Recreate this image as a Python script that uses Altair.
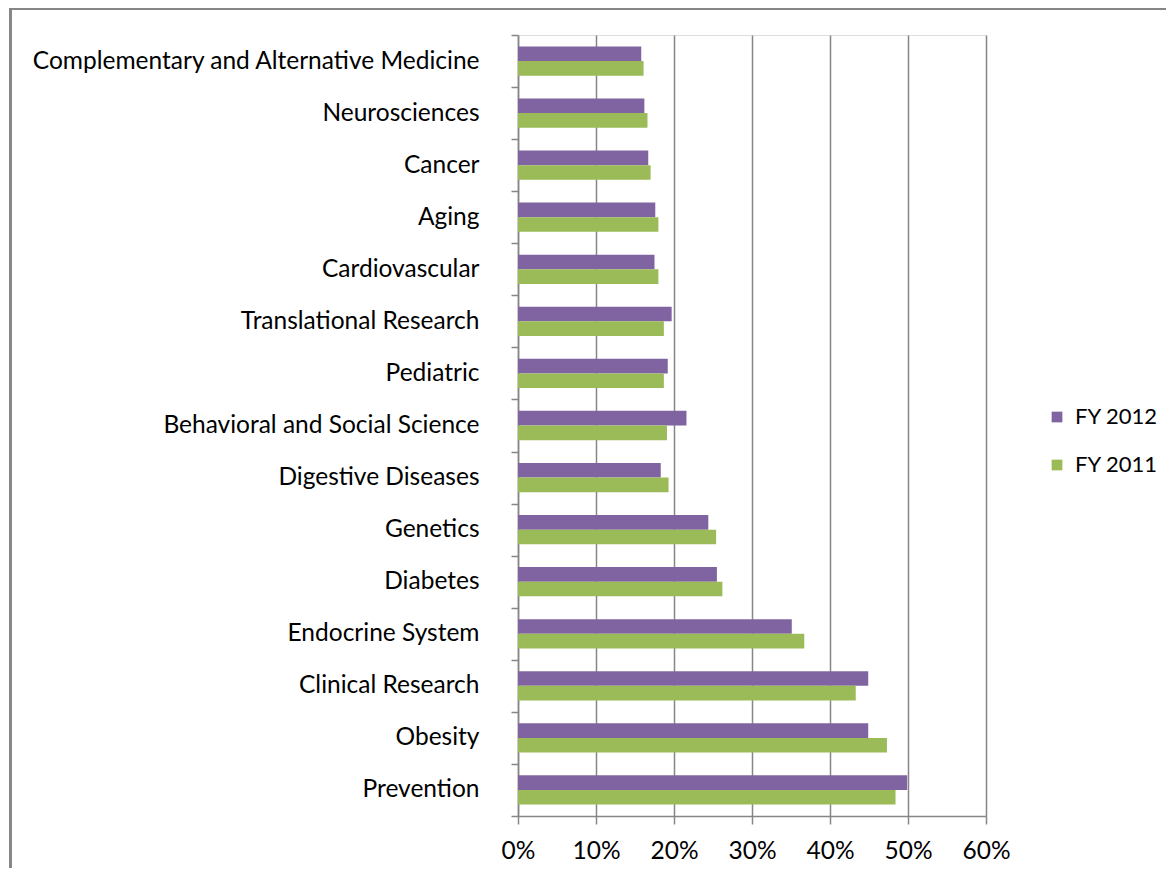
import altair as alt
import pandas as pd

categories = [
    "Complementary and Alternative Medicine", "Neurosciences", "Cancer", "Aging",
    "Cardiovascular", "Translational Research", "Pediatric",
    "Behavioral and Social Science", "Digestive Diseases", "Genetics", "Diabetes",
    "Endocrine System", "Clinical Research", "Obesity", "Prevention",
]
fy2012 = [15.8, 16.2, 16.7, 17.6, 17.5, 19.7, 19.2, 21.6, 18.3, 24.4, 25.5, 35.1, 44.9, 44.9, 49.9]
fy2011 = [16.1, 16.6, 17.0, 18.0, 18.0, 18.7, 18.7, 19.1, 19.3, 25.4, 26.2, 36.7, 43.3, 47.3, 48.4]
series = ["FY 2012", "FY 2011"]
colors = ["#8064A2", "#9BBB59"]
x_ticks = [0, 0.1, 0.2, 0.3, 0.4, 0.5, 0.6]

rows = []
for c, a, b in zip(categories, fy2012, fy2011):
    rows.append({"cat": c, "series": "FY 2012", "value": a / 100})
    rows.append({"cat": c, "series": "FY 2011", "value": b / 100})
df = pd.DataFrame(rows)

FONT = "Lato"
FS = 24.5
W, H = 468, 781

bars = alt.Chart(df).mark_bar().encode(
    x=alt.X("value:Q", scale=alt.Scale(domain=[0, 0.6], nice=False),
            axis=alt.Axis(values=x_ticks, format=".0%", title=None, grid=True,
                          gridColor="#868686", gridWidth=1.5,
                          domainColor="#868686", domainWidth=1.5,
                          tickColor="#868686", tickWidth=1.5, tickSize=8,
                          labelFont=FONT, labelFontSize=FS, labelColor="#000000",
                          labelFlush=False, labelPadding=15)),
    y=alt.Y("cat:N", sort=categories,
            scale=alt.Scale(paddingInner=0, paddingOuter=0),
            axis=alt.Axis(title=None, tickBand="extent", grid=False,
                          domainColor="#868686", domainWidth=1.5,
                          tickColor="#868686", tickWidth=1.5, tickSize=7,
                          labelFont=FONT, labelFontSize=FS, labelColor="#000000",
                          labelPadding=32, labelLimit=0)),
    yOffset=alt.YOffset("series:N", sort=series,
                        scale=alt.Scale(paddingInner=0, paddingOuter=0.78)),
    color=alt.Color("series:N", sort=series,
                    scale=alt.Scale(domain=series, range=colors),
                    legend=alt.Legend(title=None, orient="none", legendX=528, legendY=371,
                                      symbolType="square", symbolSize=115,
                                      symbolStrokeWidth=0,
                                      labelFont=FONT, labelFontSize=22,
                                      labelColor="#000000", rowPadding=26,
                                      labelOffset=7)),
)

frame = alt.Chart(df).mark_rect(fill=None, stroke="#868686", strokeWidth=1.5).encode(
    x=alt.value(-507.5), x2=alt.value(680), y=alt.value(-26), y2=alt.value(870)
)

chart = alt.layer(frame, bars).properties(
    width=W, height=H,
    padding={"left": 510, "top": 27, "right": 180, "bottom": 52},
    autosize=alt.AutoSizeParams(type="none"),
).configure_view(stroke=None).configure(background="white")

chart.save("out.html", embed_options={"renderer": "svg", "actions": False})
